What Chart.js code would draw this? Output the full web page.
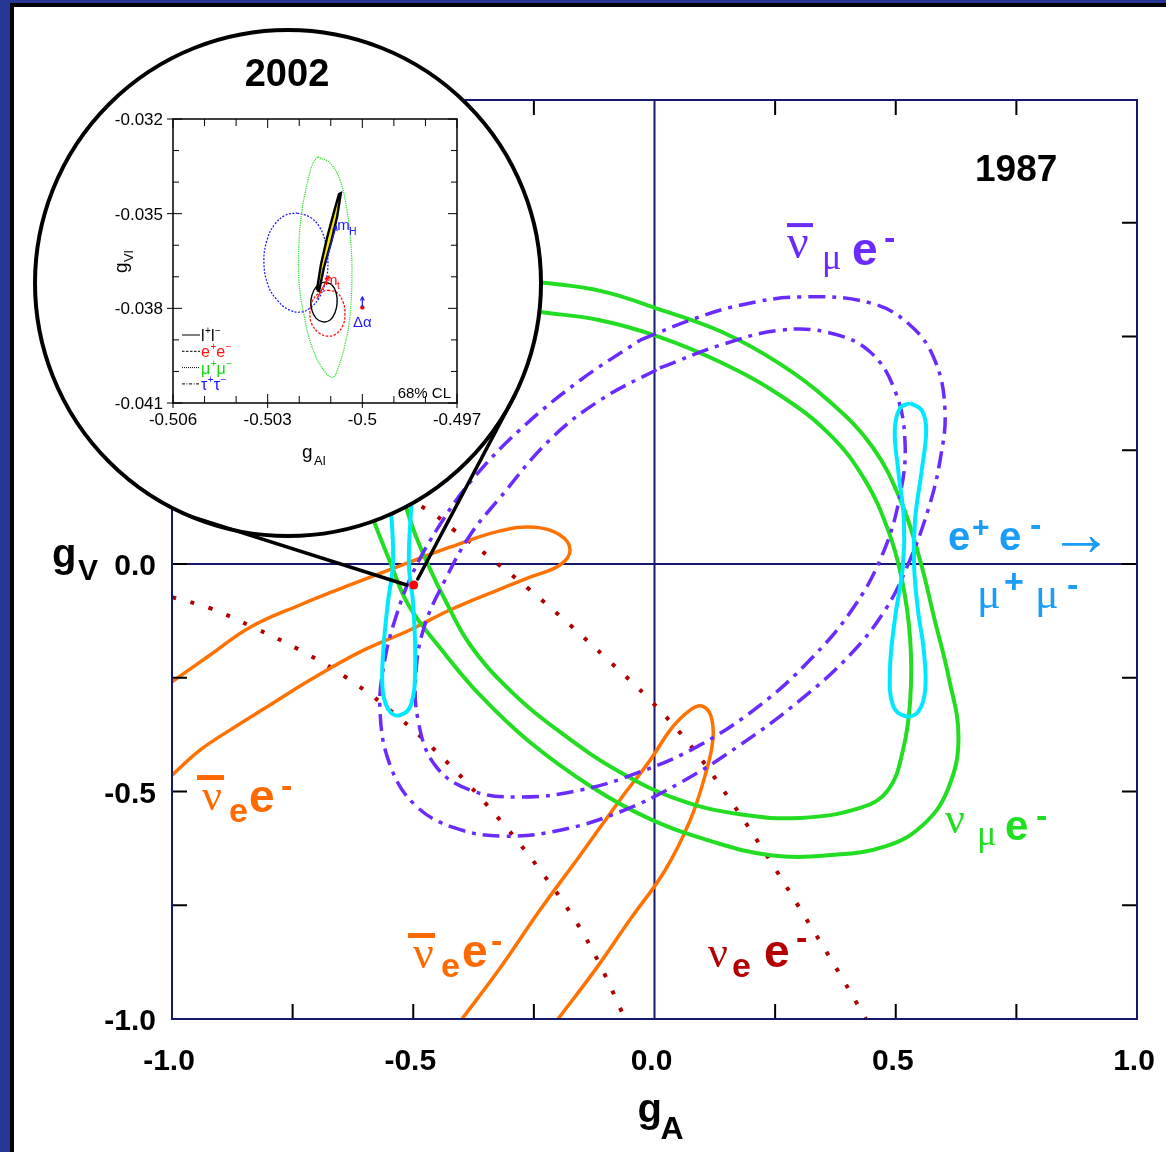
<!DOCTYPE html>
<html>
<head>
<meta charset="utf-8">
<script src="https://cdn.jsdelivr.net/npm/chart.js@4.4.0/dist/chart.umd.min.js"></script>
<style>
  html, body { margin: 0; padding: 0; background: #fff; }
  #wrap { position: relative; width: 1166px; height: 1152px; overflow: hidden; }
  #main { position: absolute; left: 0; top: 0; }
  #inset { position: absolute; left: 100px; top: 100px; }
</style>
</head>
<body>
<div id="wrap">
  <canvas id="main" width="1166" height="1152"></canvas>
  <canvas id="inset" width="420" height="380"></canvas>
</div>
<script>
const SANS = '"Liberation Sans", Arial, Helvetica, sans-serif';
const SERIF = '"Liberation Serif", "Times New Roman", serif';
const NAVY = '#16186b';

// ---------- main plot (1987 data): contours in the (gA, gV) plane ----------
// nu_mu e- : two edges of the allowed band
const numuOuterGA = [-0.24,-0.11,0.01,0.14,0.26,0.36,0.45,0.51,0.55,0.58,0.61,0.63,0.61,0.56,0.48,0.36,0.24,0.12,-0.01,-0.13,-0.26,-0.36,-0.44,-0.51,-0.55,-0.58,-0.61,-0.60,-0.55,-0.44,-0.34,-0.24];
const numuOuterGV = [0.62,0.60,0.56,0.51,0.44,0.36,0.26,0.14,0.01,-0.12,-0.25,-0.38,-0.49,-0.57,-0.62,-0.64,-0.64,-0.61,-0.56,-0.49,-0.39,-0.29,-0.19,-0.09,0.01,0.09,0.18,0.32,0.43,0.54,0.60,0.62];
const numuInnerGA = [-0.237,-0.113,0.011,0.136,0.260,0.364,0.436,0.484,0.513,0.530,0.530,0.515,0.484,0.426,0.302,0.177,0.053,-0.072,-0.196,-0.300,-0.382,-0.434,-0.469,-0.503,-0.521,-0.517,-0.455,-0.362,-0.237];
const numuInnerGV = [0.554,0.536,0.499,0.444,0.371,0.284,0.185,0.075,-0.035,-0.167,-0.299,-0.409,-0.497,-0.536,-0.558,-0.550,-0.519,-0.457,-0.369,-0.277,-0.178,-0.079,-0.002,0.086,0.163,0.295,0.404,0.492,0.554];

// anti-nu_mu e-
const numubarOuterGA = [-0.030,0.074,0.177,0.302,0.447,0.530,0.581,0.602,0.592,0.567,0.525,0.478,0.405,0.302,0.177,0.053,-0.072,-0.196,-0.310,-0.414,-0.496,-0.548,-0.569,-0.559,-0.538,-0.503,-0.445,-0.378,-0.279,-0.154,-0.030];
const numubarOuterGV = [0.492,0.536,0.569,0.587,0.574,0.525,0.448,0.339,0.229,0.119,-0.002,-0.101,-0.200,-0.299,-0.398,-0.481,-0.545,-0.585,-0.598,-0.580,-0.530,-0.442,-0.321,-0.211,-0.123,-0.024,0.086,0.185,0.295,0.404,0.492];
const numubarInnerGA = [0.011,0.136,0.260,0.364,0.447,0.498,0.519,0.509,0.472,0.409,0.322,0.219,0.094,-0.030,-0.154,-0.279,-0.382,-0.455,-0.490,-0.494,-0.476,-0.434,-0.382,-0.324,-0.217,-0.113,0.011];
const numubarInnerGV = [0.431,0.481,0.514,0.508,0.466,0.382,0.273,0.152,0.020,-0.101,-0.211,-0.310,-0.398,-0.457,-0.497,-0.512,-0.497,-0.442,-0.343,-0.233,-0.134,-0.035,0.064,0.141,0.273,0.360,0.431];

// e+e- -> mu+mu-
const eeRightGA = [0.530,0.554,0.563,0.554,0.540,0.538,0.546,0.558,0.561,0.546,0.519,0.494,0.488,0.498,0.515,0.517,0.505,0.498,0.509,0.530];
const eeRightGV = [0.354,0.338,0.295,0.207,0.097,-0.002,-0.101,-0.189,-0.277,-0.325,-0.334,-0.310,-0.233,-0.123,-0.002,0.097,0.207,0.295,0.343,0.354];
const eeLeftGA = [-0.530,-0.553,-0.562,-0.555,-0.545,-0.542,-0.552,-0.562,-0.563,-0.548,-0.527,-0.505,-0.496,-0.500,-0.509,-0.504,-0.500,-0.500,-0.510,-0.530];
const eeLeftGV = [0.354,0.338,0.290,0.200,0.100,0.000,-0.080,-0.190,-0.280,-0.325,-0.332,-0.310,-0.230,-0.090,0.000,0.130,0.210,0.290,0.343,0.354];

// anti-nu_e e-
const nuebarUpperGA = [-1.0,-0.921,-0.838,-0.735,-0.631,-0.528,-0.424,-0.320,-0.248,-0.196,-0.175,-0.196,-0.258,-0.320,-0.424,-0.507,-0.610,-0.714,-0.797,-0.880,-0.942,-1.0];
const nuebarUpperGV = [-0.259,-0.200,-0.139,-0.090,-0.046,-0.004,0.037,0.073,0.081,0.064,0.031,-0.002,-0.029,-0.055,-0.101,-0.145,-0.193,-0.255,-0.310,-0.365,-0.409,-0.464];
const nuebarLowerGA = [-0.399,-0.320,-0.237,-0.154,-0.072,-0.009,0.036,0.074,0.098,0.117,0.121,0.105,0.074,0.022,-0.051,-0.123,-0.200];
const nuebarLowerGV = [-1.0,-0.888,-0.760,-0.640,-0.519,-0.431,-0.360,-0.321,-0.312,-0.334,-0.387,-0.464,-0.563,-0.673,-0.782,-0.892,-1.0];

// nu_e e-
const nueUpperGA = [-0.517,-0.455,-0.416,-0.374,-0.335,-0.258,-0.175,-0.092,-0.009,0.074,0.157,0.239,0.322,0.385,0.438];
const nueUpperGV = [0.147,0.108,0.075,0.042,0.009,-0.057,-0.134,-0.215,-0.299,-0.398,-0.519,-0.651,-0.793,-0.903,-1.0];
const nueLowerGA = [-1.0,-0.921,-0.832,-0.735,-0.631,-0.528,-0.424,-0.320,-0.237,-0.165,-0.113,-0.061];
const nueLowerGV = [-0.073,-0.097,-0.139,-0.189,-0.255,-0.339,-0.442,-0.563,-0.673,-0.782,-0.881,-1.0];

// 2002 result marked in the big plot
const smPointGA = [-0.499];
const smPointGV = [-0.046];

// axes of the big plot
const mainTickValues = [-0.75,-0.5,-0.25,0,0.25,0.5,0.75];
const mainXLabelValues = [-1,-0.5,0,0.5,1];
const mainXLabels = ['-1.0','-0.5','0.0','0.5','1.0'];
const mainYLabelValues = [0,-0.5,-1];
const mainYLabels = ['0.0','-0.5','-1.0'];

// ---------- inset (2002 data, 68% CL contours) ----------
const llGA = [-0.50118,-0.50096,-0.50083,-0.50080,-0.50087,-0.50102,-0.50125,-0.50147,-0.50160,-0.50163,-0.50153,-0.50137,-0.50118];
const llGV = [-0.03717,-0.03726,-0.03751,-0.03783,-0.03815,-0.03837,-0.03843,-0.03831,-0.03805,-0.03774,-0.03742,-0.03723,-0.03717];
const eeGA = [-0.50109,-0.50080,-0.50061,-0.50055,-0.50061,-0.50083,-0.50109,-0.50137,-0.50160,-0.50166,-0.50160,-0.50137,-0.50109];
const eeGV = [-0.03742,-0.03751,-0.03780,-0.03815,-0.03853,-0.03881,-0.03888,-0.03878,-0.03850,-0.03815,-0.03780,-0.03751,-0.03742];
const mumuGA = [-0.50141,-0.50103,-0.50071,-0.50049,-0.50036,-0.50033,-0.50039,-0.50055,-0.50077,-0.50093,-0.50118,-0.50156,-0.50185,-0.50201,-0.50201,-0.50191,-0.50172,-0.50156,-0.50141];
const mumuGV = [-0.03320,-0.03339,-0.03393,-0.03488,-0.03599,-0.03710,-0.03821,-0.03916,-0.03989,-0.04018,-0.04002,-0.03932,-0.03821,-0.03710,-0.03599,-0.03488,-0.03393,-0.03339,-0.03320];
const tautauGA = [-0.50207,-0.50166,-0.50134,-0.50115,-0.50109,-0.50115,-0.50137,-0.50166,-0.50194,-0.50232,-0.50270,-0.50299,-0.50312,-0.50302,-0.50277,-0.50242,-0.50207];
const tautauGV = [-0.03498,-0.03511,-0.03545,-0.03599,-0.03653,-0.03710,-0.03767,-0.03799,-0.03812,-0.03805,-0.03774,-0.03726,-0.03653,-0.03583,-0.03533,-0.03504,-0.03498];
// SM prediction band (m_t, m_H varied)
const smBandGA = [-0.50144,-0.50131,-0.50112,-0.50090,-0.50074,-0.50068,-0.50080,-0.50099,-0.50122,-0.50137,-0.50144];
const smBandGV = [-0.03742,-0.03660,-0.03577,-0.03495,-0.03438,-0.03435,-0.03511,-0.03590,-0.03672,-0.03745,-0.03742];
// SM reference point with the Delta-alpha arrow
const alphaPointGA = [-0.5];
const alphaPointGV = [-0.03797];
// arrows: [fromGA, fromGV, toGA, toGV]
const arrowMH = [-0.50115,-0.03653,-0.50083,-0.03539];
const arrowMt = [-0.50144,-0.03770,-0.50106,-0.03698];
const arrowAlpha = [-0.50000,-0.03796,-0.50000,-0.03764];

const insetXMajor = [-0.506,-0.503,-0.5,-0.497];
const insetXLabels = ['-0.506','-0.503','-0.5','-0.497'];
const insetXMinor = [-0.505,-0.504,-0.502,-0.501,-0.499,-0.498];
const insetYMajor = [-0.032,-0.035,-0.038,-0.041];
const insetYLabels = ['-0.032','-0.035','-0.038','-0.041'];
const insetYMinor = [-0.033,-0.034,-0.036,-0.037,-0.039,-0.040];

const legendItems = [
  {parts:['l','+','l','−'], color:'#000000', dash:[]},
  {parts:['e','+','e','−'], color:'#ff1010', dash:[2.5,1.5]},
  {parts:['μ','+','μ','−'], color:'#10dd10', dash:[1,1]},
  {parts:['τ','+','τ','−'], color:'#1414ff', dash:[3,1.5,1,1.5]}
];

function pts(xs, ys) { return xs.map((x, i) => ({x: x, y: ys[i]})); }

// ---------- text labels placed in the big plot ----------
const curveLabels = [
  {ga:0.2746, gv:0.6725, color:'#6b2bff', runs:[
    {t:'ν', f:`48px ${SERIF}`, x:0, y:0, bar:[0,-35,26,4]},
    {t:'μ', f:`36px ${SERIF}`, x:35, y:11},
    {t:'e', f:`bold 46px ${SANS}`, x:65, y:7},
    {t:'-', f:`bold 34px ${SANS}`, x:97, y:-9}]},
  {ga:0.6083, gv:0.0308, color:'#1b9cf7', runs:[
    {t:'e', f:`bold 40px ${SANS}`, x:0, y:0},
    {t:'+', f:`bold 30px ${SANS}`, x:24, y:-13},
    {t:'e', f:`bold 40px ${SANS}`, x:51, y:0},
    {t:'-', f:`bold 34px ${SANS}`, x:82, y:-14},
    {t:'→', f:`64px ${SANS}`, x:101, y:5},
    {t:'μ', f:`44px ${SERIF}`, x:29, y:58},
    {t:'+', f:`bold 34px ${SANS}`, x:56, y:43},
    {t:'μ', f:`44px ${SERIF}`, x:87, y:58},
    {t:'-', f:`bold 34px ${SANS}`, x:119, y:46}]},
  {ga:0.6021, gv:-0.5912, color:'#22dd22', runs:[
    {t:'ν', f:`44px ${SERIF}`, x:0, y:0},
    {t:'μ', f:`36px ${SERIF}`, x:32, y:12},
    {t:'e', f:`bold 42px ${SANS}`, x:60, y:7},
    {t:'-', f:`bold 34px ${SANS}`, x:91, y:-6}]},
  {ga:-0.9378, gv:-0.5407, color:'#ff6a00', runs:[
    {t:'ν', f:`44px ${SERIF}`, x:0, y:0, bar:[-5,-35,27,5]},
    {t:'e', f:`bold 34px ${SANS}`, x:27, y:12},
    {t:'e', f:`bold 46px ${SANS}`, x:47, y:2},
    {t:'-', f:`bold 34px ${SANS}`, x:79, y:-13}]},
  {ga:-0.5005, gv:-0.8879, color:'#ff6a00', runs:[
    {t:'ν', f:`46px ${SERIF}`, x:0, y:0, bar:[-5,-35,27,5]},
    {t:'e', f:`bold 34px ${SANS}`, x:28, y:9},
    {t:'e', f:`bold 46px ${SANS}`, x:49, y:-1},
    {t:'-', f:`bold 34px ${SANS}`, x:78, y:-16}]},
  {ga:0.1109, gv:-0.8857, color:'#b30000', runs:[
    {t:'ν', f:`44px ${SERIF}`, x:0, y:0},
    {t:'e', f:`bold 34px ${SANS}`, x:24, y:10},
    {t:'e', f:`bold 46px ${SANS}`, x:56, y:0},
    {t:'-', f:`bold 34px ${SANS}`, x:88, y:-18}]},
  {ga:0.6642, gv:0.8418, color:'#000000', runs:[
    {t:'1987', f:`bold 37px ${SANS}`, x:0, y:0}]}
];

function drawRuns(c, x0, y0, runs, color) {
  c.fillStyle = color;
  c.textAlign = 'left';
  c.textBaseline = 'alphabetic';
  for (const r of runs) {
    c.font = r.f;
    c.fillText(r.t, x0 + r.x, y0 + r.y);
    if (r.bar) c.fillRect(x0 + r.bar[0], y0 + r.bar[1], r.bar[2], r.bar[3]);
  }
}

function arrow(c, x1, y1, x2, y2, color, head) {
  const ang = Math.atan2(y2 - y1, x2 - x1);
  c.save();
  c.strokeStyle = color; c.lineWidth = 1.2;
  c.beginPath(); c.moveTo(x1, y1); c.lineTo(x2, y2); c.stroke();
  c.beginPath();
  c.moveTo(x2 - head * Math.cos(ang - 0.5), y2 - head * Math.sin(ang - 0.5));
  c.lineTo(x2, y2);
  c.lineTo(x2 - head * Math.cos(ang + 0.5), y2 - head * Math.sin(ang + 0.5));
  c.stroke();
  c.restore();
}

// magnifier circle and its pointer lines
const lens = {cx: 288, cy: 283, r: 253, angA: 113, angB: 26.3};

const mainDecor = {
  id: 'mainDecor',
  beforeDraw(chart) {
    const c = chart.ctx;
    c.save();
    c.fillStyle = '#263694'; c.fillRect(0, 0, chart.width, chart.height);
    c.fillStyle = '#000'; c.fillRect(10, 3, chart.width - 10, chart.height - 3);
    c.fillStyle = '#fff'; c.fillRect(14, 7, chart.width - 14, chart.height - 7);
    c.restore();
  },
  beforeDatasetsDraw(chart) {
    const {ctx: c, chartArea: a, scales: {x, y}} = chart;
    const x0 = x.getPixelForValue(0), y0 = y.getPixelForValue(0);
    c.save();
    c.strokeStyle = NAVY; c.lineWidth = 2;
    c.beginPath();
    c.moveTo(x0, a.top); c.lineTo(x0, a.bottom);
    c.moveTo(a.left, y0); c.lineTo(a.right, y0);
    c.stroke();
    c.restore();
  },
  afterDatasetsDraw(chart) {
    const {ctx: c, chartArea: a, scales: {x, y}} = chart;
    c.save();
    // ticks
    c.strokeStyle = '#000'; c.lineWidth = 2;
    c.beginPath();
    for (const v of mainTickValues) {
      const px = x.getPixelForValue(v), py = y.getPixelForValue(v);
      if (v !== 0) {
        c.moveTo(px, a.bottom); c.lineTo(px, a.bottom - 15);
        c.moveTo(px, a.top); c.lineTo(px, a.top + 15);
      }
      c.moveTo(a.left, py); c.lineTo(a.left + 15, py);
      c.moveTo(a.right, py); c.lineTo(a.right - 15, py);
    }
    c.stroke();
    // frame
    c.strokeStyle = NAVY; c.lineWidth = 2;
    c.strokeRect(a.left, a.top, a.right - a.left, a.bottom - a.top);
    // tick labels
    c.fillStyle = '#000';
    c.font = `bold 30px ${SANS}`;
    c.textAlign = 'center'; c.textBaseline = 'alphabetic';
    mainXLabelValues.forEach((v, i) => c.fillText(mainXLabels[i], x.getPixelForValue(v) - 3, a.bottom + 51));
    c.textAlign = 'right';
    mainYLabelValues.forEach((v, i) => c.fillText(mainYLabels[i], a.left - 16, y.getPixelForValue(v) + 11));
    // axis titles
    const x0 = x.getPixelForValue(0), y0 = y.getPixelForValue(0);
    c.textAlign = 'left';
    c.font = `bold 40px ${SANS}`; c.fillText('g', x0 - 17, a.bottom + 103);
    c.font = `bold 32px ${SANS}`; c.fillText('A', x0 + 6, a.bottom + 120);
    c.font = `bold 40px ${SANS}`; c.fillText('g', a.left - 120, y0 + 3);
    c.font = `bold 30px ${SANS}`; c.fillText('V', a.left - 94, y0 + 16);
    // curve labels
    for (const L of curveLabels) {
      drawRuns(c, x.getPixelForValue(L.ga), y.getPixelForValue(L.gv), L.runs, L.color);
    }
    // magnifier
    c.beginPath(); c.arc(lens.cx, lens.cy, lens.r, 0, Math.PI * 2);
    c.fillStyle = '#fff'; c.fill();
    c.lineWidth = 4; c.strokeStyle = '#000'; c.stroke();
    const dx = x.getPixelForValue(smPointGA[0]), dy = y.getPixelForValue(smPointGV[0]);
    const ra = lens.angA * Math.PI / 180, rb = lens.angB * Math.PI / 180;
    c.lineWidth = 3.5; c.lineCap = 'round';
    c.beginPath();
    c.moveTo(lens.cx + lens.r * Math.cos(ra), lens.cy + lens.r * Math.sin(ra)); c.lineTo(dx - 7, dy);
    c.moveTo(lens.cx + lens.r * Math.cos(rb), lens.cy + lens.r * Math.sin(rb)); c.lineTo(dx + 4, dy - 6);
    c.stroke();
    // year of the inset
    c.fillStyle = '#000'; c.font = `bold 38px ${SANS}`; c.textAlign = 'center';
    c.fillText('2002', lens.cx - 1, 86);
    c.restore();
  }
};

const curve = (xs, ys, color, width, dash, order) => ({
  data: pts(xs, ys), showLine: true, borderColor: color, borderWidth: width,
  borderDash: dash, borderCapStyle: 'butt', borderJoinStyle: 'round',
  tension: 0.4, pointRadius: 0, fill: false, order: order
});

const GREEN = '#22dd22', PURPLE = '#6b2bff', CYAN = '#00e8ff', ORANGE = '#ff7200', DRED = '#b00000';
const PURPLE_DASH = [17, 7, 4, 7], DOT_DASH = [4, 15];

new Chart(document.getElementById('main'), {
  type: 'scatter',
  data: {datasets: [
    {data: pts(smPointGA, smPointGV), pointRadius: 4.5, pointBackgroundColor: '#ff0000', pointBorderWidth: 0, order: 0},
    curve(eeLeftGA, eeLeftGV, CYAN, 4, [], 1),
    curve(eeRightGA, eeRightGV, CYAN, 4, [], 1),
    curve(numubarOuterGA, numubarOuterGV, PURPLE, 3.5, PURPLE_DASH, 2),
    curve(numubarInnerGA, numubarInnerGV, PURPLE, 3.5, PURPLE_DASH, 2),
    curve(numuOuterGA, numuOuterGV, GREEN, 4, [], 3),
    curve(numuInnerGA, numuInnerGV, GREEN, 4, [], 3),
    curve(nuebarUpperGA, nuebarUpperGV, ORANGE, 3.5, [], 4),
    curve(nuebarLowerGA, nuebarLowerGV, ORANGE, 3.5, [], 4),
    curve(nueUpperGA, nueUpperGV, DRED, 4, DOT_DASH, 5),
    curve(nueLowerGA, nueLowerGV, DRED, 4, DOT_DASH, 5)
  ]},
  options: {
    responsive: false, animation: false, devicePixelRatio: 1,
    layout: {padding: {left: 172, right: 29, top: 100, bottom: 133}},
    scales: {
      x: {type: 'linear', min: -1, max: 1, display: false},
      y: {type: 'linear', min: -1, max: 1.02, display: false}
    },
    plugins: {legend: {display: false}, tooltip: {enabled: false}}
  },
  plugins: [mainDecor]
});

// ---------- inset chart ----------
function supText(c, x, y, parts, color, big, small) {
  c.fillStyle = color; c.textAlign = 'left'; c.textBaseline = 'alphabetic';
  let cx = x;
  parts.forEach((p, i) => {
    const sup = (i % 2 === 1);
    c.font = `${sup ? small : big}px ${SANS}`;
    c.fillText(p, cx, sup ? y - 7 : y);
    cx += c.measureText(p).width + (sup ? 0 : 0.5);
  });
}

const insetDecor = {
  id: 'insetDecor',
  afterDatasetsDraw(chart) {
    const {ctx: c, chartArea: a, scales: {x, y}} = chart;
    c.save();
    c.strokeStyle = '#000'; c.lineWidth = 1;
    c.beginPath();
    for (const v of insetXMinor) {
      const px = x.getPixelForValue(v);
      c.moveTo(px, a.bottom); c.lineTo(px, a.bottom - 7);
      c.moveTo(px, a.top); c.lineTo(px, a.top + 7);
    }
    for (const v of insetYMinor) {
      const py = y.getPixelForValue(v);
      c.moveTo(a.left, py); c.lineTo(a.left + 6, py);
      c.moveTo(a.right, py); c.lineTo(a.right - 6, py);
    }
    for (const v of insetXMajor) {
      const px = x.getPixelForValue(v);
      c.moveTo(px, a.bottom + 5); c.lineTo(px, a.bottom - 9);
      c.moveTo(px, a.top); c.lineTo(px, a.top + 9);
    }
    for (const v of insetYMajor) {
      const py = y.getPixelForValue(v);
      c.moveTo(a.left - 6, py); c.lineTo(a.left + 9, py);
      c.moveTo(a.right, py); c.lineTo(a.right - 9, py);
    }
    c.stroke();
    c.lineWidth = 1.5;
    c.strokeRect(a.left, a.top, a.right - a.left, a.bottom - a.top);

    // tick labels
    c.fillStyle = '#000'; c.font = `17px ${SANS}`; c.textBaseline = 'alphabetic';
    c.textAlign = 'center';
    insetXMajor.forEach((v, i) => c.fillText(insetXLabels[i], x.getPixelForValue(v), a.bottom + 22));
    c.textAlign = 'right';
    insetYMajor.forEach((v, i) => c.fillText(insetYLabels[i], a.left - 10, y.getPixelForValue(v) + 6));

    // axis titles
    c.textAlign = 'left';
    c.font = `19px ${SANS}`; c.fillText('g', a.left + 129, a.bottom + 55);
    c.font = `13px ${SANS}`; c.fillText('Al', a.left + 141, a.bottom + 62);
    c.save();
    c.translate(a.left - 46, a.top + 154);
    c.rotate(-Math.PI / 2);
    c.font = `19px ${SANS}`; c.fillText('g', 0, 0);
    c.font = `13px ${SANS}`; c.fillText('Vl', 11, 6);
    c.restore();

    // legend
    legendItems.forEach((it, i) => {
      const ly = a.bottom - 68 + i * 16.3;
      c.strokeStyle = '#000'; c.lineWidth = 1; c.setLineDash(it.dash);
      c.beginPath(); c.moveTo(a.left + 9, ly); c.lineTo(a.left + 27, ly); c.stroke();
      c.setLineDash([]);
      supText(c, a.left + 28, ly + 6, it.parts, it.color, 16, 10);
    });

    c.fillStyle = '#000'; c.font = `15px ${SANS}`; c.textAlign = 'right';
    c.fillText('68% CL', a.right - 6, a.bottom - 5);

    // arrows for m_H, m_t and Delta alpha
    const P = (ga, gv) => [x.getPixelForValue(ga), y.getPixelForValue(gv)];
    let p1 = P(arrowMH[0], arrowMH[1]), p2 = P(arrowMH[2], arrowMH[3]);
    arrow(c, p1[0], p1[1], p2[0], p2[1], '#1a1aff', 5);
    c.textAlign = 'left'; c.fillStyle = '#1a1aff';
    c.font = `15px ${SANS}`; c.fillText('m', p2[0] + 1, p2[1] + 4);
    c.font = `10px ${SANS}`; c.fillText('H', p2[0] + 13, p2[1] + 9);
    p1 = P(arrowMt[0], arrowMt[1]); p2 = P(arrowMt[2], arrowMt[3]);
    arrow(c, p1[0], p1[1], p2[0], p2[1], '#ff1010', 5);
    c.fillStyle = '#ff1010';
    c.font = `15px ${SANS}`; c.fillText('m', p2[0] - 4, p2[1] + 9);
    c.font = `10px ${SANS}`; c.fillText('t', p2[0] + 8, p2[1] + 13);
    p1 = P(arrowAlpha[0], arrowAlpha[1]); p2 = P(arrowAlpha[2], arrowAlpha[3]);
    arrow(c, p1[0], p1[1], p2[0], p2[1], '#1a1aff', 4);
    c.fillStyle = '#1a1aff'; c.textAlign = 'center';
    c.font = `15px ${SANS}`; c.fillText('Δα', p1[0], p1[1] + 20);
    c.restore();
  }
};

const icurve = (xs, ys, color, width, dash) => ({
  data: pts(xs, ys), showLine: true, borderColor: color, borderWidth: width,
  borderDash: dash, tension: 0.4, pointRadius: 0, fill: false
});

new Chart(document.getElementById('inset'), {
  type: 'scatter',
  data: {datasets: [
    {data: pts(alphaPointGA, alphaPointGV), pointRadius: 2.2, pointBackgroundColor: '#ff0000', pointBorderWidth: 0},
    {data: pts(smBandGA, smBandGV), showLine: true, borderColor: '#000', borderWidth: 2.4,
     backgroundColor: '#f2e600', fill: 'shape', tension: 0, pointRadius: 0},
    icurve(llGA, llGV, '#000000', 1.4, []),
    icurve(eeGA, eeGV, '#ff1010', 1.3, [2.5, 1.5]),
    icurve(mumuGA, mumuGV, '#22dd22', 1.2, [1.2, 1]),
    icurve(tautauGA, tautauGV, '#1414ff', 1.2, [2, 1.5])
  ]},
  options: {
    responsive: false, animation: false, devicePixelRatio: 1,
    layout: {padding: {left: 73, right: 63, top: 19, bottom: 77}},
    scales: {
      x: {type: 'linear', min: -0.506, max: -0.497, display: false},
      y: {type: 'linear', min: -0.041, max: -0.032, display: false}
    },
    plugins: {legend: {display: false}, tooltip: {enabled: false}}
  },
  plugins: [insetDecor]
});
</script>
</body>
</html>
